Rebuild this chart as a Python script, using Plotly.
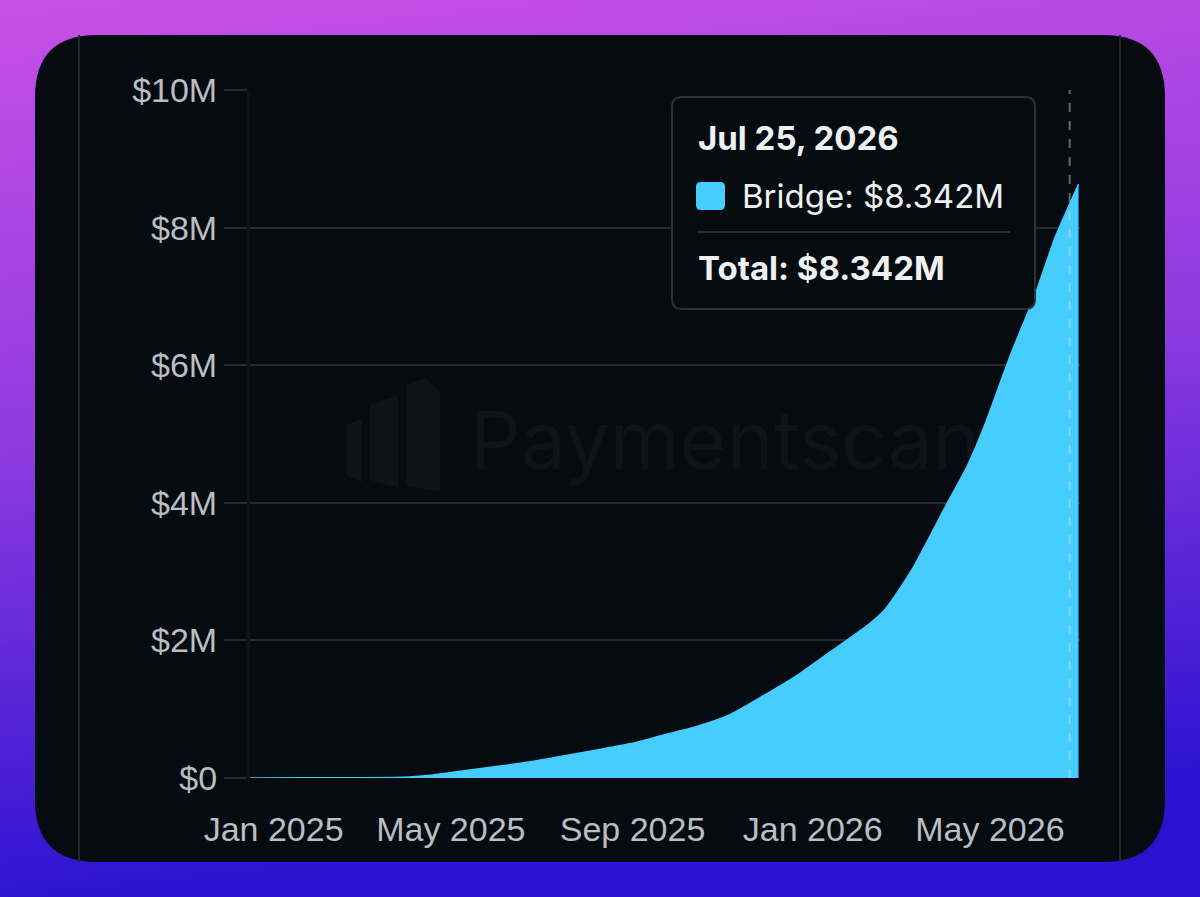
import base64
import plotly.graph_objects as go

# cumulative bridge volume (USD)
dates = [
    "2024-12-16", "2025-01-19", "2025-02-22", "2025-03-30", "2025-04-17",
    "2025-05-10", "2025-06-02", "2025-06-24", "2025-07-16", "2025-08-08",
    "2025-08-31", "2025-09-22", "2025-10-14", "2025-11-06", "2025-11-29",
    "2025-12-22", "2026-01-14", "2026-02-06", "2026-02-19", "2026-03-09",
    "2026-04-01", "2026-04-16", "2026-04-27", "2026-05-15", "2026-06-01",
    "2026-06-14", "2026-06-24", "2026-06-30",
]
bridge = [
    0, 2000, 5000, 10000, 40000,
    106000, 170000, 237000, 320000, 407000,
    500000, 625000, 745000, 920000, 1200000,
    1500000, 1850000, 2200000, 2450000, 3020000,
    3950000, 4550000, 5100000, 6150000, 7050000,
    7850000, 8342000, 8630000,
]

y_ticks = [0, 2e6, 4e6, 6e6, 8e6, 10e6]
y_labels = ["$0", "$2M", "$4M", "$6M", "$8M", "$10M"]
x_ticks = ["2025-01-01", "2025-05-01", "2025-09-01", "2026-01-01", "2026-05-01"]
x_labels = ["Jan 2025", "May 2025", "Sep 2025", "Jan 2026", "May 2026"]

series_name = "Bridge"
tooltip_date = "Jul 25, 2026"
hover_idx = 26

CYAN = "#44cdfd"

# pixel -> paper helpers (plot area is 250..1080 x 90..778)
L, W, BOT, H = 250, 830, 778, 688
def px(X):
    return (X - L) / W
def py(Y):
    return (BOT - Y) / H

def rounded(x0, y0, x1, y1, r):
    return (f"M {px(x0+r)} {py(y0)} L {px(x1-r)} {py(y0)} "
            f"Q {px(x1)} {py(y0)} {px(x1)} {py(y0+r)} L {px(x1)} {py(y1-r)} "
            f"Q {px(x1)} {py(y1)} {px(x1-r)} {py(y1)} L {px(x0+r)} {py(y1)} "
            f"Q {px(x0)} {py(y1)} {px(x0)} {py(y1-r)} L {px(x0)} {py(y0+r)} "
            f"Q {px(x0)} {py(y0)} {px(x0+r)} {py(y0)} Z")

def poly(pts):
    return "M " + " L ".join(f"{px(a)} {py(b)}" for a, b in pts) + " Z"

svg = """<svg xmlns='http://www.w3.org/2000/svg' width='1200' height='897'>
<defs><linearGradient id='g' x1='0' y1='0' x2='0.15' y2='1'>
<stop offset='0' stop-color='#c850e6'/><stop offset='0.5' stop-color='#8c3adf'/>
<stop offset='1' stop-color='#2a12d0'/></linearGradient></defs>
<rect width='1200' height='897' fill='url(#g)'/></svg>"""
bg_src = "data:image/svg+xml;base64," + base64.b64encode(svg.encode()).decode()

fig = go.Figure()
fig.add_trace(go.Scatter(
    x=dates, y=bridge, name=series_name, mode="lines", fill="tozeroy",
    line=dict(color=CYAN, width=1.5, shape="spline", smoothing=0.6), fillcolor=CYAN,
    hoverinfo="skip",
))

wm = "#0c1419"
shapes = [
    # card
    dict(type="path", xref="paper", yref="paper", path=rounded(35, 35, 1165, 862, 62),
         fillcolor="#050b10", line=dict(width=0), layer="below"),
    dict(type="line", xref="paper", yref="paper", x0=px(79), x1=px(79), y0=py(35), y1=py(862),
         line=dict(color="#22272b", width=2), layer="below"),
    dict(type="line", xref="paper", yref="paper", x0=px(1120), x1=px(1120), y0=py(35), y1=py(862),
         line=dict(color="#22272b", width=2), layer="below"),
    # watermark
    dict(type="rect", xref="paper", yref="paper", x0=px(460), x1=px(990), y0=py(490), y1=py(385),
         line=dict(width=0), fillcolor="rgba(0,0,0,0)", layer="below",
         label=dict(text="Paymentscan", font=dict(family="Inter", size=80, color=wm),
                    textposition="middle center")),
    dict(type="path", xref="paper", yref="paper", layer="below", fillcolor=wm, line=dict(width=0),
         path=poly([(347, 425), (362, 418), (362, 482), (347, 476)])),
    dict(type="path", xref="paper", yref="paper", layer="below", fillcolor=wm, line=dict(width=0),
         path=poly([(370, 405), (398, 395), (398, 488), (370, 480)])),
    dict(type="path", xref="paper", yref="paper", layer="below", fillcolor=wm, line=dict(width=0),
         path=poly([(406, 385), (425, 378), (440, 392), (440, 492), (406, 486)])),
    # hover line
    dict(type="line", xref="x", yref="paper", x0=dates[hover_idx], x1=dates[hover_idx], y0=0, y1=1,
         line=dict(color="rgba(215,220,225,0.45)", width=2, dash="dash"), layer="above"),
    # tooltip
    dict(type="path", xref="paper", yref="paper", path=rounded(672, 97, 1035, 309, 10),
         fillcolor="#060b10", line=dict(color="#2c3236", width=2), layer="above"),
    dict(type="line", xref="paper", yref="paper", x0=px(697), x1=px(1010), y0=py(232), y1=py(232),
         line=dict(color="#2a3035", width=2), layer="above"),
    dict(type="path", xref="paper", yref="paper", path=rounded(696, 182, 725, 210, 5),
         fillcolor=CYAN, line=dict(width=0), layer="above"),
]

val = f"${bridge[hover_idx] / 1e6:.3f}M"
tip_font = dict(family="Inter", size=33, color="#eef0f2")
annotations = [
    dict(text=f"<b>{tooltip_date}</b>", x=px(696), y=py(138)),
    dict(text=f"{series_name}: {val}", x=px(740), y=py(196)),
    dict(text=f"<b>Total: {val}</b>", x=px(696), y=py(268)),
]
for a in annotations:
    a.update(xref="paper", yref="paper", xanchor="left", yanchor="middle",
             showarrow=False, font=tip_font)

tick_font = dict(family="Liberation Sans, Arial", size=34, color="#babec2")
fig.update_layout(
    width=1200, height=897, autosize=False,
    margin=dict(l=L, r=1200 - L - W, t=BOT - H, b=897 - BOT),
    paper_bgcolor="#2a12d0", plot_bgcolor="rgba(0,0,0,0)",
    showlegend=False, hovermode=False,
    images=[dict(source=bg_src, xref="paper", yref="paper", x=px(0), y=py(0),
                 sizex=1200 / W, sizey=897 / H, xanchor="left", yanchor="top",
                 sizing="stretch", layer="below")],
    shapes=shapes, annotations=annotations,
    xaxis=dict(type="date", range=["2024-12-16", "2026-07-01"], tickvals=x_ticks, ticktext=x_labels,
               showgrid=False, zeroline=False, showline=False, ticks="",
               tickfont=tick_font, ticklabelstandoff=28),
    yaxis=dict(range=[0, 10e6], tickvals=y_ticks, ticktext=y_labels,
               showgrid=True, gridcolor="#252b2f", gridwidth=2, zeroline=False,
               showline=True, linecolor="#0d1418", linewidth=3,
               ticks="outside", ticklen=23, tickwidth=2, tickcolor="#252b2f",
               tickfont=tick_font, ticklabelstandoff=0),
)

fig.write_html("out.html", config={"displayModeBar": False},
               post_script="document.body.style.margin='0';")
